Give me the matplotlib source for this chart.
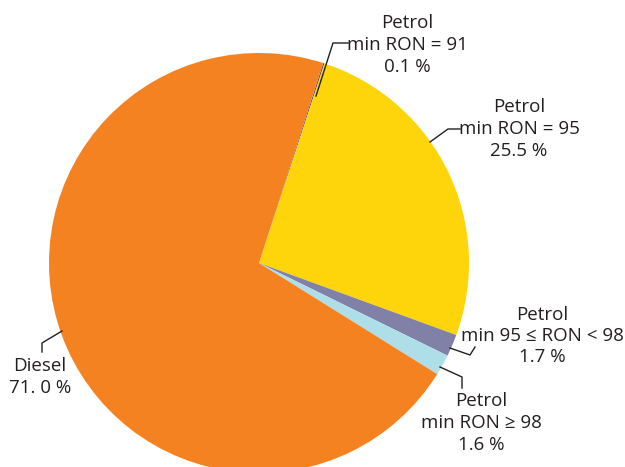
import numpy as np
import matplotlib.pyplot as plt

plt.rcParams['font.family'] = ['Open Sans', 'DejaVu Sans']

labels = ['Petrol\nmin RON = 91\n0.1 %',
          'Petrol\nmin RON = 95\n25.5 %',
          'Petrol\nmin 95 \u2264 RON < 98\n1.7 %',
          'Petrol\nmin RON \u2265 98\n1.6 %',
          'Diesel\n71. 0 %']
shares = [0.1, 25.5, 1.7, 1.6, 71.0]
colors = ['#5b4f7c', '#fed40a', '#8180a6', '#aedfe8', '#f58220']

W, H = 625, 467
fig = plt.figure(figsize=(W / 100, H / 100), dpi=100)
ax = fig.add_axes([0, 0, 1, 1])

cx, cy, r = 259, H - 263, 210
wedges, _ = ax.pie(shares, colors=colors, startangle=72.2, counterclock=False,
                   center=(cx, cy), radius=r, frame=True,
                   wedgeprops=dict(linewidth=0))

ax.set_xlim(0, W)
ax.set_ylim(0, H)
ax.set_aspect('equal')
ax.axis('off')

# label centre, leader line (pixel coords, y from top)
label_pos = [(407, 45), (519, 129), (542, 336), (481, 423), (40, 377)]
leaders = [
    [(316, 96), (333, 43), (348, 43)],
    [(430, 142), (448, 129), (460, 129)],
    [(450, 348), (470, 355), (475, 347)],
    [(440, 367), (462, 377), (462, 388)],
    [(62, 331), (42, 343), (42, 352)],
]

for lab, (x, y), pts in zip(labels, label_pos, leaders):
    ax.text(x, H - y, lab, ha='center', va='center', fontsize=13.5,
            color='#231f20', linespacing=1.25)
    xs = [p[0] for p in pts]
    ys = [H - p[1] for p in pts]
    ax.plot(xs, ys, color='#231f20', lw=1.0)

fig.savefig('out.png', dpi=100)
